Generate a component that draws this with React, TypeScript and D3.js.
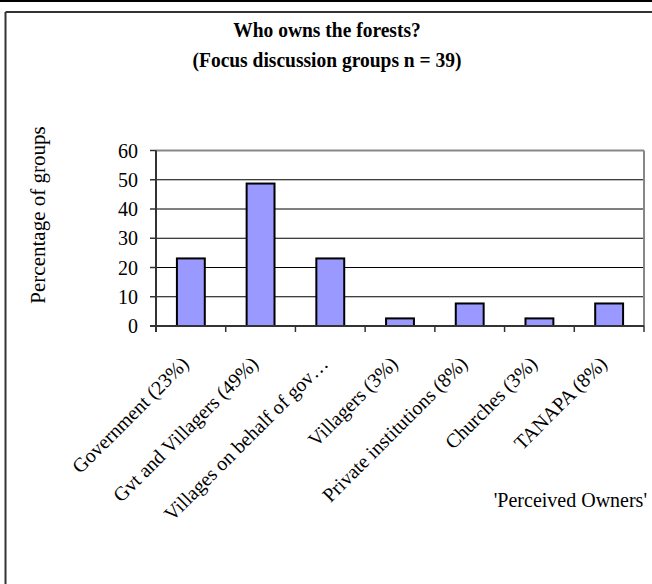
import React from "react";
import * as d3 from "d3";

const categories = [
  "Government (23%)",
  "Gvt and Villagers (49%)",
  "Villages on behalf of gov…",
  "Villagers (3%)",
  "Private institutions (8%)",
  "Churches (3%)",
  "TANAPA (8%)",
];
const values = [23.1, 48.7, 23.1, 2.6, 7.7, 2.6, 7.7];
const yTicks = [0, 10, 20, 30, 40, 50, 60];
const titleLines = ["Who owns the forests?", "(Focus discussion groups n = 39)"];
const yLabel = "Percentage of groups";
const xLabel = "'Perceived Owners'";

export default function App() {
  const W = 652, H = 584;
  const left = 156, right = 644, top = 150.5, bottom = 326;
  const x = d3.scaleBand<string>().domain(categories).range([left, right]).paddingInner(0).paddingOuter(0);
  const y = d3.scaleLinear().domain([0, 60]).range([bottom, top]);
  const bw = x.bandwidth() * 0.4;
  const font = "'Liberation Serif', 'Times New Roman', serif";
  const boundaries = categories.map((c) => x(c)!).concat([right]);
  return (
    <svg width={W} height={H} style={{ position: "absolute", left: 0, top: 0, background: "#fff" }} fontFamily={font}>
      <rect x={0} y={0} width={W} height={H} fill="#fff" />
      <line x1={0} x2={W} y1={1} y2={1} stroke="#000" strokeWidth={2} />
      <line x1={5.5} x2={W} y1={12} y2={12} stroke="#333" strokeWidth={2} />
      <line x1={5.5} x2={5.5} y1={12} y2={H} stroke="#333" strokeWidth={2} />
      {titleLines.map((t, i) => (
        <text key={i} transform={`translate(327,${37 + i * 30}) scale(1,1.12)`} textAnchor="middle" fontWeight="bold" fontSize={19.5}>{t}</text>
      ))}
      {yTicks.map((t) => (
        <line key={"g" + t} x1={left} x2={right} y1={y(t)} y2={y(t)} stroke={t === 60 ? "#888" : "#000"} strokeWidth={t === 60 ? 2 : 1} />
      ))}
      <line x1={right} x2={right} y1={top} y2={bottom} stroke="#888" strokeWidth={2} />
      {categories.map((c, i) => (
        <rect key={c} x={x(c)! + x.bandwidth() / 2 - bw / 2} y={y(values[i])} width={bw} height={bottom - y(values[i])} fill="#9999FF" stroke="#000" strokeWidth={2} />
      ))}
      <line x1={left} x2={left} y1={top} y2={bottom + 6} stroke="#333" strokeWidth={2} />
      <line x1={left - 6} x2={right} y1={bottom} y2={bottom} stroke="#333" strokeWidth={2} />
      {yTicks.map((t) => (
        <line key={"t" + t} x1={left - 6} x2={left} y1={y(t)} y2={y(t)} stroke="#333" strokeWidth={1.5} />
      ))}
      {boundaries.map((b, i) => (
        <line key={"b" + i} x1={b} x2={b} y1={bottom} y2={bottom + 6} stroke="#333" strokeWidth={1.5} />
      ))}
      {yTicks.map((t) => (
        <text key={"l" + t} x={138} y={y(t) + 7} textAnchor="end" fontSize={20}>{t}</text>
      ))}
      <text transform={`translate(45,215) rotate(-90)`} textAnchor="middle" fontSize={21}>{yLabel}</text>
      {categories.map((c) => (
        <text key={"x" + c} transform={`translate(${x(c)! + x.bandwidth() / 2 - 1},${bottom + 39}) rotate(-45)`} textAnchor="end" fontSize={20}>{c}</text>
      ))}
      <text x={647} y={507} textAnchor="end" fontSize={20}>{xLabel}</text>
    </svg>
  );
}
